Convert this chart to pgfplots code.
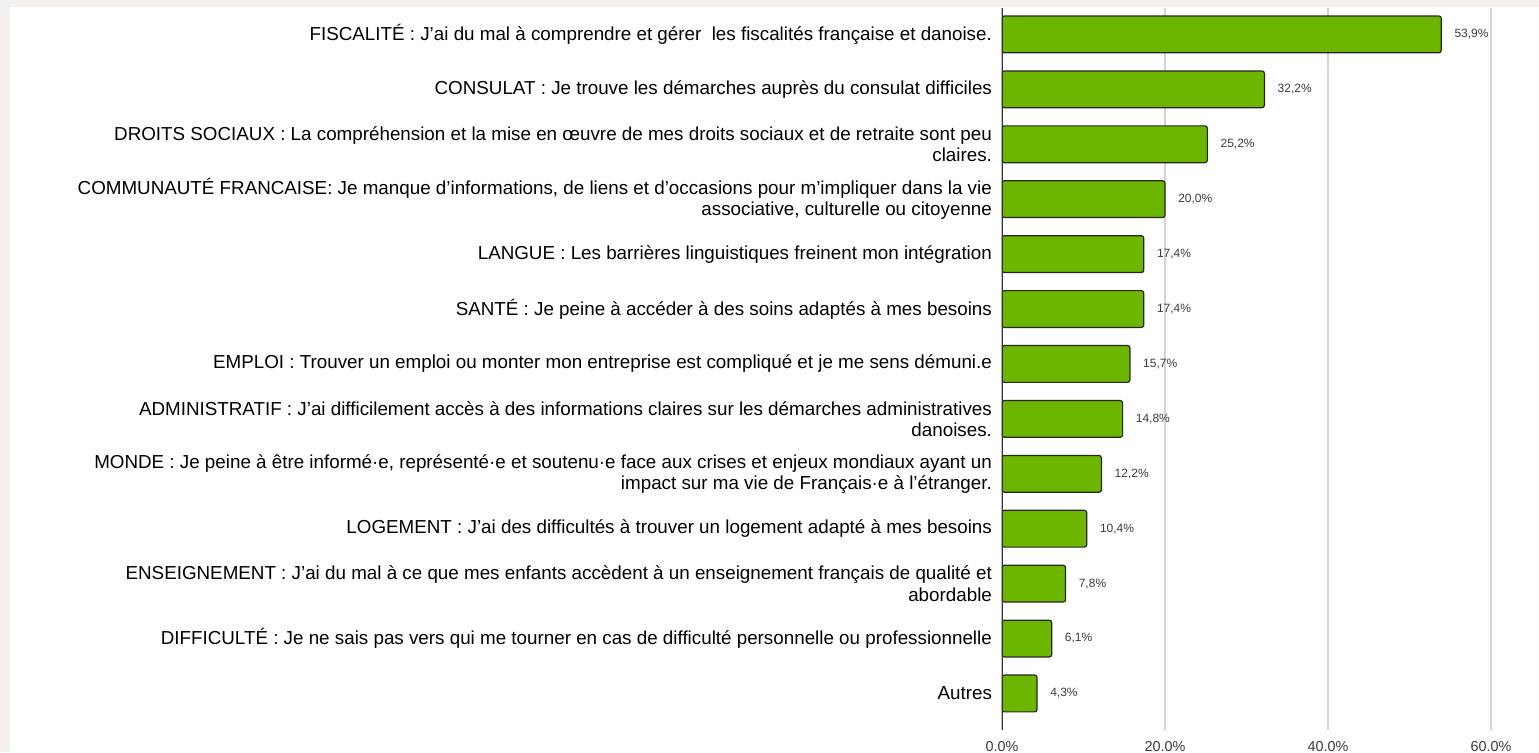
\documentclass[border=0pt]{standalone}
\usepackage{fontspec}
\setmainfont{Liberation Sans}
\usepackage{pgfplots}
\pgfplotsset{compat=1.18}
\definecolor{barfill}{RGB}{108,182,0}
\definecolor{frame}{RGB}{243,240,237}
\definecolor{gridc}{RGB}{212,212,212}
\definecolor{ticktext}{RGB}{60,60,60}

\begin{document}
\begin{tikzpicture}
\fill[frame] (0,0) rectangle (769.5pt,376pt);
\fill[white] (5pt,0) rectangle (769.5pt,372.25pt);
\begin{axis}[
  at={(501pt,11pt)}, anchor=south west,
  scale only axis, width=244.5pt, height=361.25pt,
  xbar, bar width=0.67, y dir=reverse,
  xmin=0, xmax=60, ymin=-0.49, ymax=12.665,
  xtick={0,20,40,60}, ytick={0,...,12},
  major tick length=0pt,
  axis line style={draw=none},
  xmajorgrids, grid style={gridc, line width=0.6pt},
  /pgf/number format/assume math mode=true,
  xticklabel={\pgfmathprintnumber[fixed,fixed zerofill,precision=1]{\tick}\%},
  xticklabel style={font=\fontsize{7.2}{8}\selectfont, text=ticktext, yshift=-2pt},
  yticklabel style={font=\fontsize{9.4}{10.6}\selectfont, align=right, text=black, xshift=-1.5pt},
  yticklabels={
    {FISCALITÉ : J’ai du mal à comprendre et gérer\ \ les fiscalités française et danoise.},
    {CONSULAT : Je trouve les démarches auprès du consulat difficiles},
    {DROITS SOCIAUX : La compréhension et la mise en œuvre de mes droits sociaux et de retraite sont peu\\claires.},
    {COMMUNAUTÉ FRANCAISE: Je manque d’informations, de liens et d’occasions pour m’impliquer dans la vie\\associative, culturelle ou citoyenne},
    {LANGUE : Les barrières linguistiques freinent mon intégration},
    {SANTÉ : Je peine à accéder à des soins adaptés à mes besoins},
    {EMPLOI : Trouver un emploi ou monter mon entreprise est compliqué et je me sens démuni.e},
    {ADMINISTRATIF : J’ai difficilement accès à des informations claires sur les démarches administratives\\danoises.},
    {MONDE : Je peine à être informé·e, représenté·e et soutenu·e face aux crises et enjeux mondiaux ayant un\\impact sur ma vie de Français·e à l’étranger.},
    {LOGEMENT : J'ai des difficultés à trouver un logement adapté à mes besoins},
    {ENSEIGNEMENT : J'ai du mal à ce que mes enfants accèdent à un enseignement français de qualité et\\abordable},
    {DIFFICULTÉ : Je ne sais pas vers qui me tourner en cas de difficulté personnelle ou professionnelle},
    {Autres}
  },
  nodes near coords={\pgfmathprintnumber[fixed,fixed zerofill,precision=1,use comma]{\pgfplotspointmeta}\%},
  nodes near coords align=horizontal,
  every node near coord/.append style={font=\fontsize{6}{7}\selectfont, text=ticktext, anchor=west, xshift=3pt},
]
\addplot[fill=barfill, draw=black!85, line width=0.6pt, rounded corners=1.2pt]
  coordinates {(53.9,0) (32.2,1) (25.2,2) (20.0,3) (17.4,4) (17.4,5) (15.7,6)
               (14.8,7) (12.2,8) (10.4,9) (7.8,10) (6.1,11) (4.3,12)};
\draw[black!80, line width=0.7pt] (axis cs:0,-0.49) -- (axis cs:0,12.665);
\end{axis}
\pgfresetboundingbox
\path (0,0) rectangle (769.5pt,376pt);
\end{tikzpicture}
\end{document}
